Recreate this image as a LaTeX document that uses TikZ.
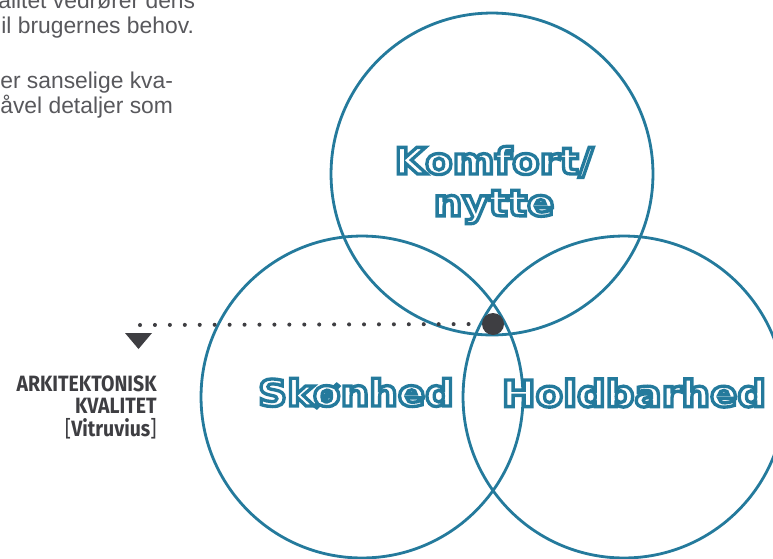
\documentclass[tikz,border=0pt]{standalone}
\usepackage{fontspec}
\usepackage{xcolor}
\usepackage{tikz}
\usetikzlibrary{positioning,calc}
\setmainfont{Liberation Sans}
\newfontfamily\ringfont{DejaVu Sans}[FakeStretch=1.1]
\newfontfamily\condfont{Fira Sans}[FakeStretch=0.88]
\definecolor{ringblue}{RGB}{36,122,156}
\definecolor{darkgrey}{RGB}{62,62,66}
\definecolor{textgrey}{RGB}{88,88,92}
% outlined letters: fill white, stroke blue
\newcommand{\hollow}[1]{{\color{white}\special{pdf:literal direct 0.141 0.478 0.612 RG 2 Tr 1.9 w}#1\special{pdf:literal direct 0 Tr}}}

\begin{document}
\begin{tikzpicture}[
    x=0.02cm, y=-0.02cm,
    ring/.style={circle, draw=ringblue, line width=1.6pt, inner sep=0pt, minimum size=6.44cm},
    ringlabel/.style={inner sep=0pt, align=center, font=\ringfont\bfseries\fontsize{20.8}{23.8}\selectfont},
    bodytext/.style={inner sep=0pt, anchor=base west, text=textgrey, font=\fontsize{13}{14.2}\selectfont},
    spot/.style={circle, fill=darkgrey, inner sep=0pt, minimum size=0.44cm}
]
    \useasboundingbox (0,0) rectangle (773,558);

    % Text cut off at the left edge
    \node[bodytext] (line1) at (-2,8) {alitet vedrører dens};
    \node[bodytext] (line2) at (1,33) {il brugernes behov.};
    \node[bodytext] (line3) at (0,88) {er sanselige kva-};
    \node[bodytext] (line4) at (0,113) {åvel detaljer som};

    % The three rings
    \node[ring] (komfort) at (492,174) {};
    \node[ring] (skoenhed) at (362,397) {};
    \node[ring] (holdbar) at (624,397) {};

    \node[ringlabel] (komforttxt) at (494,185) {\hollow{Komfort/}\\\hollow{nytte}};
    \node[ringlabel] (skoenhedtxt) at (356,393) {\hollow{Skønhed}};
    \node[ringlabel] (holdbartxt) at (634,393) {\hollow{Holdbarhed}};

    % Pointer to the label
    \node[spot] (centre) at (493,324) {};
    \coordinate (dotsend) at (140,325);
    \draw[darkgrey, line width=2.3pt, line cap=round, dash pattern=on 0pt off 8.5pt] (dotsend) -- (centre);
    \coordinate (tip) at (138.5,349);
    \fill[darkgrey] (tip) -- ++(-13.5,-16) -- ++(27,0) -- cycle;

    \node[anchor=north east, inner sep=0pt, align=right, text=darkgrey,
          font=\condfont\bfseries\fontsize{12.6}{13}\selectfont] (kvalitet) at (157,375)
        {ARKITEKTONISK\\KVALITET\\{\mdseries[}Vitruvius{\mdseries]}};
\end{tikzpicture}
\end{document}
